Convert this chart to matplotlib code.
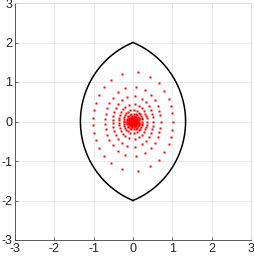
import numpy as np
import matplotlib
matplotlib.use("Agg")
import matplotlib.pyplot as plt

plt.rcParams['font.family'] = ['Liberation Sans', 'DejaVu Sans']

# ---- data ----
# lens outline: vertices at (0, +-2), half width at y = 0
lens_vertex_y = 2.0
lens_half_width = 1.337

# parametric angles (deg) of the 29 rays of dots (upper half + mirror)
ray_angles_upper = [0, 10, 18.4, 27, 38, 50, 64, 83,
                    106.5, 122.7, 136.4, 148.1, 157.7, 167.2, 176]
# semi-axes of the dot rings (x extent, y extent)
ring_x = [1.013, 0.706, 0.512, 0.356, 0.239, 0.160, 0.108, 0.073,
          0.050, 0.034, 0.023, 0.016]
ring_y = [1.263, 0.879, 0.638, 0.443, 0.297, 0.199, 0.134, 0.091,
          0.062, 0.042, 0.029, 0.020]

tick_vals = [-3, -2, -1, 0, 1, 2, 3]

# ---- figure ----
fig = plt.figure(figsize=(2.54, 2.57), dpi=100)
ax = fig.add_axes([15/254, 17/257, 236/254, 237/257])

# lens from two circular arcs
c = (lens_vertex_y**2 - lens_half_width**2) / (2*lens_half_width)
R = lens_half_width + c
phi = np.arcsin(lens_vertex_y / R)
t = np.linspace(-phi, phi, 200)
xr = -c + R*np.cos(t)
yr = R*np.sin(t)
lx = np.concatenate([xr, -xr[::-1]])
ly = np.concatenate([yr, yr[::-1]])
ax.plot(lx, ly, color='black', lw=1.1, zorder=3)

# dots
ang = np.deg2rad(np.array(ray_angles_upper + [-a for a in ray_angles_upper[1:]]))
px, py = [], []
for a, b in zip(ring_x, ring_y):
    px.extend(a*np.cos(ang))
    py.extend(b*np.sin(ang))
ax.plot(px, py, 's', color='red', ms=2.0, mec='none', zorder=4)

ax.set_xlim(-3, 3)
ax.set_ylim(-3, 3)
ax.set_xticks(tick_vals)
ax.set_yticks(tick_vals)
ax.set_xticklabels([str(v) for v in tick_vals])
ax.set_yticklabels([str(v) for v in tick_vals])
ax.grid(True, color='#e6e6e6', lw=0.6)
ax.set_axisbelow(True)
ax.tick_params(direction='in', length=2.5, width=0.5, labelsize=9,
               pad=2, colors='#262626', top=False, right=False)
for s in ['left', 'bottom']:
    ax.spines[s].set_color('#404040')
    ax.spines[s].set_linewidth(0.6)
for s in ['top', 'right']:
    ax.spines[s].set_color('#d9d9d9')
    ax.spines[s].set_linewidth(0.6)

fig.savefig('out.png', dpi=100)
